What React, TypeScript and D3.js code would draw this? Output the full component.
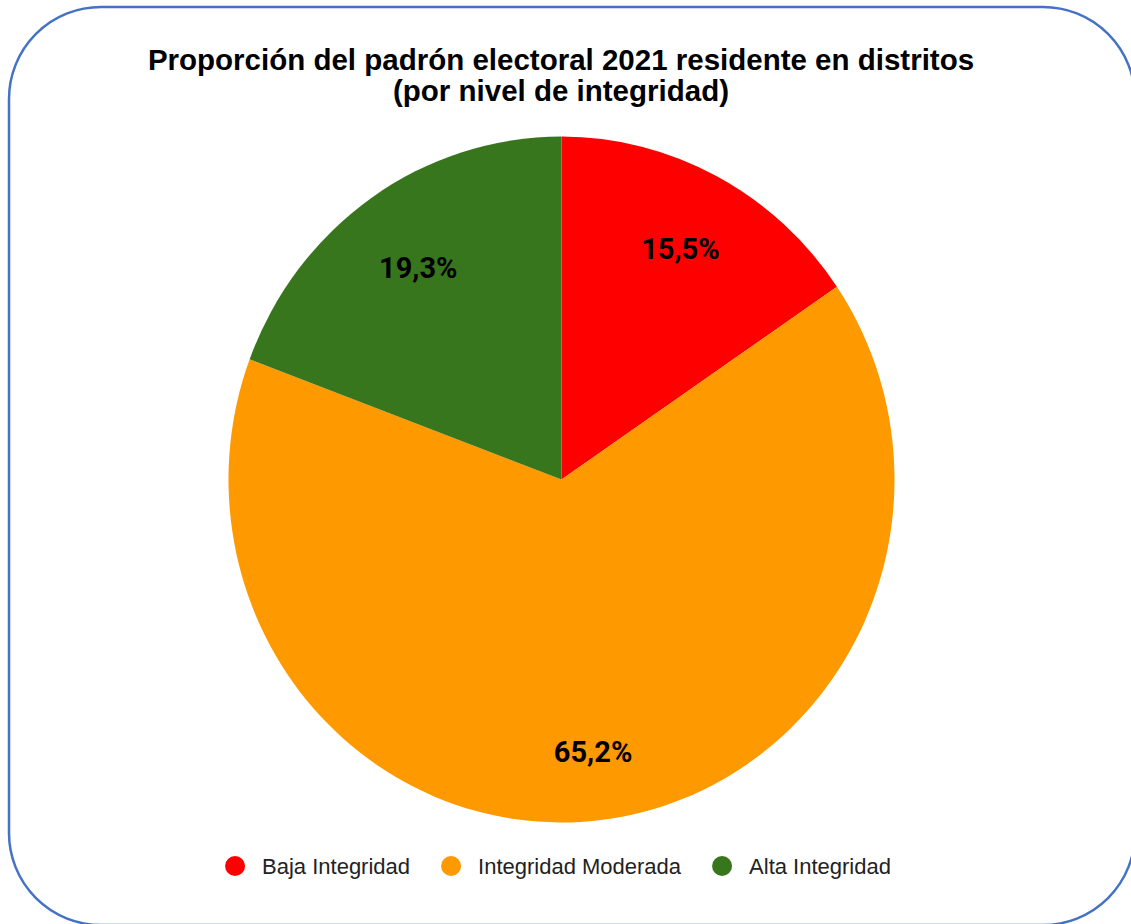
import React, { useEffect, useRef } from 'react';
import * as d3 from 'd3';

const categories = ['Baja Integridad', 'Integridad Moderada', 'Alta Integridad'];
const shares = [15.5, 65.2, 19.3];
const labels = ['15,5%', '65,2%', '19,3%'];
const colors = ['#ff0000', '#ff9900', '#38761d'];
const titleLines = [
  'Proporción del padrón electoral 2021 residente en distritos',
  '(por nivel de integridad)',
];

const App: React.FC = () => {
  const svgRef = useRef<SVGSVGElement | null>(null);

  useEffect(() => {
    if (!svgRef.current) return;
    const svg = d3.select(svgRef.current);
    svg.selectAll('*').remove();

    // Frame
    svg.append('rect')
      .attr('x', 9)
      .attr('y', 7)
      .attr('width', 1126)
      .attr('height', 918)
      .attr('rx', 92)
      .attr('ry', 92)
      .attr('fill', '#fff')
      .attr('stroke', '#4472c4')
      .attr('stroke-width', 2.5);

    // Title
    const title = svg.append('text')
      .attr('text-anchor', 'middle')
      .attr('font-family', '"Liberation Sans", Arial, sans-serif')
      .attr('font-weight', 'bold')
      .attr('font-size', 29.5)
      .attr('fill', '#000');
    titleLines.forEach((line, i) => {
      title.append('tspan')
        .attr('x', 561)
        .attr('y', 70 + i * 31)
        .text(line);
    });

    // Pie
    const cx = 561.5;
    const cy = 479.5;
    const r = 333;
    const sy = 1.03;

    const pie = d3.pie<number>().sort(null).value(d => d);
    const arcs = pie(shares);
    const arc = d3.arc<d3.PieArcDatum<number>>().innerRadius(0).outerRadius(r);

    const g = svg.append('g')
      .attr('transform', `translate(${cx},${cy}) scale(1,${sy})`);

    g.selectAll('path')
      .data(arcs)
      .join('path')
      .attr('d', arc)
      .attr('fill', (_, i) => colors[i]);

    // Labels: placed so that the outer corner of the label box sits at 0.85r
    const hw = 38;
    const hh = 11;
    const R = r * 0.85;
    svg.append('g')
      .selectAll('text')
      .data(arcs)
      .join('text')
      .each(function (d, i) {
        const a = (d.startAngle + d.endAngle) / 2;
        const s = Math.sin(a);
        const c = Math.cos(a);
        const b = hw * Math.abs(s) + hh * Math.abs(c);
        const dist = -b + Math.sqrt(b * b - (hw * hw + hh * hh - R * R));
        d3.select(this)
          .attr('x', cx + dist * s)
          .attr('y', cy - dist * c * sy)
          .text(labels[i]);
      })
      .attr('text-anchor', 'middle')
      .attr('dy', '0.38em')
      .attr('font-family', 'Roboto, sans-serif')
      .attr('font-weight', 'bold')
      .attr('font-size', 29)
      .attr('fill', '#000');

    // Legend
    const legend = svg.append('g');
    const items = legend.selectAll('g')
      .data(categories)
      .join('g');
    items.append('circle')
      .attr('r', 10)
      .attr('cx', 10)
      .attr('cy', 0)
      .attr('fill', (_, i) => colors[i]);
    items.append('text')
      .attr('x', 37)
      .attr('y', 8)
      .attr('font-family', '"Liberation Sans", Arial, sans-serif')
      .attr('font-size', 22)
      .attr('fill', '#222')
      .text(d => d);

    const gap = 31;
    let x = 0;
    const offsets: number[] = [];
    items.each(function () {
      offsets.push(x);
      const t = d3.select(this).select('text').node() as SVGTextElement;
      x += 37 + t.getComputedTextLength() + gap;
    });
    const total = x - gap;
    const startX = 558 - total / 2;
    items.attr('transform', (_, i) => `translate(${startX + offsets[i]},866)`);
  }, []);

  return (
    <svg
      ref={svgRef}
      width={1131}
      height={924}
      style={{ position: 'absolute', left: 0, top: 0, display: 'block' }}
    />
  );
};

export default App;
